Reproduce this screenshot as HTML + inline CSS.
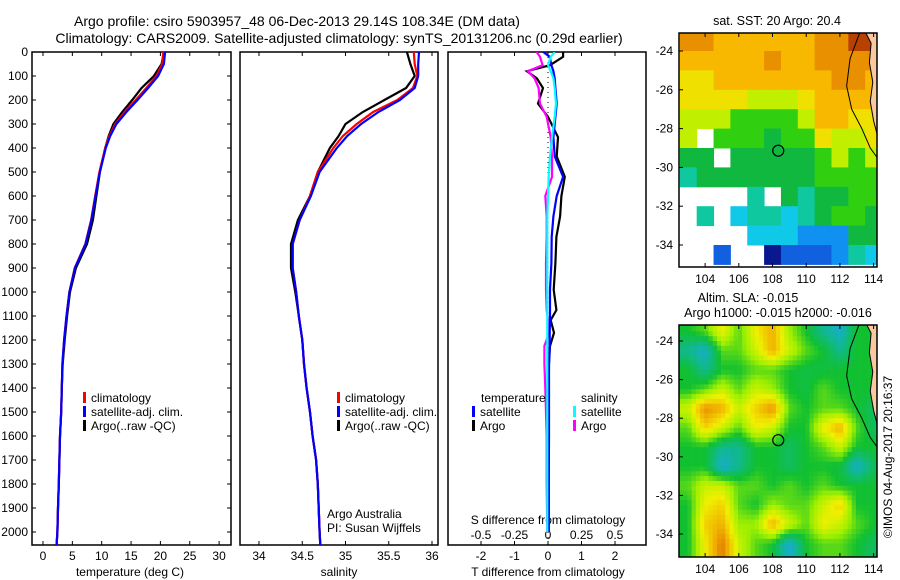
<!DOCTYPE html>
<html><head><meta charset="utf-8"><title>Argo profile</title>
<style>
html,body{margin:0;padding:0;background:#fff;}
svg{display:block;font-family:"Liberation Sans",sans-serif;font-size:12px;}
</style></head>
<body>
<svg id="chart" width="900" height="580" viewBox="0 0 900 580" xmlns="http://www.w3.org/2000/svg">
<defs>
<clipPath id="c1"><rect x="32" y="52" width="199" height="493"/></clipPath>
<clipPath id="c2"><rect x="240" y="52" width="198" height="493"/></clipPath>
<clipPath id="c3"><rect x="448" y="52" width="198" height="493"/></clipPath>
<clipPath id="cm1"><rect x="679" y="33" width="198" height="234"/></clipPath>
<clipPath id="cm2"><rect x="679" y="325" width="198" height="232"/></clipPath>
</defs>
<text x="297" y="26" text-anchor="middle" style="font-size:14px">Argo profile: csiro 5903957_48 06-Dec-2013 29.14S 108.34E (DM data)</text>
<text x="339" y="43" text-anchor="middle" style="font-size:14px">Climatology: CARS2009. Satellite-adjusted climatology: synTS_20131206.nc (0.29d earlier)</text>
<g id="g"></g>
</svg>
<script>
// ---------- data ----------
const depths = [0,50,100,150,200,250,300,350,400,500,600,700,800,900,1000,1100,1200,1300,1400,1500,1600,1700,1800,1900,2000,2060];
const tempClim = [20.5,20.3,19.3,17.6,15.8,13.9,12.3,11.3,10.6,9.6,8.9,8.2,7.2,5.4,4.5,4.0,3.6,3.3,3.2,3.1,2.9,2.8,2.7,2.55,2.45,2.3];
const tempSat  = [20.8,20.6,19.6,17.9,16.1,14.2,12.5,11.45,10.7,9.7,8.95,8.25,7.25,5.45,4.5,4.0,3.6,3.3,3.2,3.1,2.9,2.8,2.7,2.55,2.45,2.3];
const tempArgo = [20.6,20.2,18.9,16.8,15.2,13.5,12.0,11.2,10.6,9.7,9.1,8.5,7.5,5.6,4.6,4.1,3.7,3.35,3.2,3.1,2.9,2.8,2.7,2.55,2.45,2.3];
const salClim = [35.79,35.8,35.83,35.78,35.6,35.32,35.13,34.97,34.86,34.68,34.59,34.47,34.39,34.39,34.43,34.46,34.5,34.52,34.55,34.59,34.62,34.66,34.68,34.69,34.7,34.71];
const salSat  = [35.85,35.84,35.84,35.8,35.63,35.38,35.18,35.02,34.9,34.7,34.6,34.47,34.39,34.39,34.43,34.46,34.5,34.52,34.55,34.59,34.62,34.66,34.68,34.69,34.7,34.71];
const salArgo = [35.71,35.75,35.8,35.7,35.45,35.2,35.0,34.92,34.82,34.68,34.59,34.45,34.37,34.37,34.42,34.46,34.5,34.52,34.55,34.59,34.62,34.66,34.68,34.69,34.7,34.71];

const diffDepths = [0,20,55,80,110,150,215,270,355,435,520,600,685,770,880,990,1075,1117,1170,1225,1300,1400,1600,1800,2000];
const tDiffSat  = [-0.14,0.05,0.1,0.16,0.2,0.22,0.26,0.22,0.16,0.2,0.45,0.26,0.16,0.11,0.1,0.06,0.06,0.06,0.05,0.05,0.03,0.03,0.03,0.02,0.02];
const tDiffArgo = [0.45,0.45,0.06,-0.63,-0.33,-0.15,-0.3,0.0,0.3,0.26,0.5,0.4,0.36,0.25,0.22,0.17,0.25,0.08,0.18,0.06,0.03,0.02,0.02,0.02,0.02];
const sDiffSat  = [0.05,0.02,0.0,0.02,0.04,0.05,0.06,0.05,0.03,0.015,0.005,0.0,-0.005,-0.005,-0.005,-0.005,-0.005,-0.005,-0.005,-0.005,-0.005,-0.005,-0.005,-0.005,-0.005];
const sDiffArgo = [-0.085,-0.06,-0.04,-0.15,-0.1,-0.07,-0.06,-0.01,0.02,0.03,0.03,-0.02,-0.01,-0.01,-0.015,-0.015,-0.01,0.0,0.01,-0.027,-0.027,-0.02,-0.01,-0.01,-0.005];

const depthTicks = [0,100,200,300,400,500,600,700,800,900,1000,1100,1200,1300,1400,1500,1600,1700,1800,1900,2000];
const tempTicks = [0,5,10,15,20,25,30];
const salTicks = [34,34.5,35,35.5,36];
const salTickLabels = ["34","34.5","35","35.5","36"];
const tDiffTicks = [-2,-1,0,1,2];
const sDiffTicks = [-0.5,-0.25,0,0.25,0.5];
const lonTicks = [104,106,108,110,112,114];
const latTicks = [-24,-26,-28,-30,-32,-34];

// SST grid (1 deg cells, rows from -23 to -35, cols from 102.5 to 114.5); -1 = no data
const sstGrid = [
[10,10,9,9,9,9,9,9,10,10,11,11],
[9,9,9,9,9,10,9,9,10,10,10,10],
[8,8,9,9,9,9,9,9,9,10,10,9],
[8,8,8,8,7,7,7,8,9,9,9,9],
[7,7,7,6,6,6,6,7,9,9,8,8],
[7,-1,6,6,6,5,6,6,8,7,7,8],
[5,5,-1,5,5,5,5,5,6,7,6,7],
[4,5,5,5,5,5,5,5,6,6,6,6],
[-1,-1,-1,-1,4,-1,5,4,5,5,6,6],
[-1,4,-1,3,4,4,3,4,5,6,6,5],
[-1,-1,-1,-1,3,3,3,2,2,2,5,5],
[-1,-1,1,-1,-1,0,1,1,1,2,4,3]];
const sstColors = ["#0a1890","#1060e0","#1090f0","#10c8e8","#10c8a0","#10b840","#30d010","#c0f000","#f0e000","#f8b800","#e89000","#b84000"];

// SLA grid (cell centres lon 103..114, lat -23.5..-34.5)
const slaGrid = [
[2,2.5,4,2.5,4,5,3,2,1,0.3,2,2],
[1,0.3,2.5,2.5,3.5,5,3.5,2.5,2,1,2,2],
[2,1,2,2,2.5,2.5,2,1.8,1.8,2,2,2],
[2,2.5,3.5,2.5,3.5,3,2,1.8,2.5,2,2,2],
[3.5,5.5,5,3.5,4.5,5.5,2.5,2,2.5,2.5,2,1.5],
[2.5,4.5,3.5,2.5,4,3.5,2,2,4,5,2.5,1.5],
[2,2,1,1,2,2,1.5,2,2.5,3.5,2,2],
[2,2,0.2,1,2,2,1.5,2,2,1.8,0.3,1.5],
[2.5,3.5,3.5,2.5,2.5,2,2.5,2,2.5,2,2,2],
[2,4,4.5,2.5,2,3,2.5,2.5,3.5,4.5,2,2],
[2,4.5,5,3,3,5,3.5,2.5,4,3.5,2.5,2],
[2,4,5.8,3.5,2.5,2,0.2,2,2.5,2.5,2,1.5]];
const slaStops = ["#19a8e0","#10b890","#10c030","#a0f000","#f0f000","#f0b000","#e07000"];

// ---------- helpers ----------
const NS="http://www.w3.org/2000/svg";
const G=document.getElementById('g');
function mk(tag,attrs,parent){const e=document.createElementNS(NS,tag);for(const k in attrs)e.setAttribute(k,attrs[k]);(parent||G).appendChild(e);return e;}
function txt(s,x,y,anchor,parent){const t=mk('text',{x:x,y:y,'text-anchor':anchor||'start'},parent);t.textContent=s;return t;}
const yD=d=>52+d*0.24;
const xT=t=>43+t*5.87;
const xS=s=>259+(s-34)*86.5;
const xTD=v=>548+v*33.5;
const xSD=s=>548+s*4*33.5;
const lonX=lon=>679+(lon-102.45)*16.85;
const latY1=lat=>51+(-24-lat)*19.4;
const latY2=lat=>341+(-24-lat)*19.3;

function line(xs,ds,fx,color,clip,name,w){
  const pts=xs.map((v,i)=>fx(v).toFixed(1)+','+yD(ds[i]).toFixed(1)).join(' ');
  const p=mk('polyline',{points:pts,fill:'none',stroke:color,'stroke-width':w||2.2,'clip-path':'url(#'+clip+')'});
  
  
}
function frame(x0,x1,name){
  const r=mk('rect',{x:x0,y:52,width:x1-x0,height:493,fill:'none',stroke:'#000','stroke-width':1.5});
  
  
}
function legendEntry(x,y,color,label,name){
  const g=mk('g',{});
  
  
  mk('rect',{x:x,y:y-10,width:3,height:11,fill:color},g);
  txt(label,x+8,y,'start',g);
}

// ---------- panel 1: temperature ----------
frame(32,231,'temperature-panel-frame');
depthTicks.forEach(d=>{
  const y=yD(d);
  mk('line',{x1:32,x2:36,y1:y,y2:y,stroke:'#000'});
  mk('line',{x1:227,x2:231,y1:y,y2:y,stroke:'#000'});
  const t=txt(String(d),28,y+4,'end');
  
  
});
tempTicks.forEach(v=>{
  const x=xT(v);
  mk('line',{x1:x,x2:x,y1:52,y2:56,stroke:'#000'});
  mk('line',{x1:x,x2:x,y1:541,y2:545,stroke:'#000'});
  const t=txt(String(v),x,560,'middle');
  
  
});
const xl1=txt('temperature (deg C)',130,576,'middle');


line(tempArgo,depths,xT,'#000','c1','temp-argo-line');
line(tempClim,depths,xT,'#f00','c1','temp-climatology-line');
line(tempSat,depths,xT,'#00f','c1','temp-satellite-line');
legendEntry(83,402,'#f00','climatology','legend-climatology');
legendEntry(83,416,'#00f','satellite-adj. clim.','legend-satellite-adj');
legendEntry(83,430,'#000','Argo(..raw -QC)','legend-argo');

// ---------- panel 2: salinity ----------
frame(240,438,'salinity-panel-frame');
salTicks.forEach((v,i)=>{
  const x=xS(v);
  mk('line',{x1:x,x2:x,y1:52,y2:56,stroke:'#000'});
  mk('line',{x1:x,x2:x,y1:541,y2:545,stroke:'#000'});
  const t=txt(salTickLabels[i],x,560,'middle');
  
  
});
const xl2=txt('salinity',339,576,'middle');


line(salArgo,depths,xS,'#000','c2','sal-argo-line');
line(salClim,depths,xS,'#f00','c2','sal-climatology-line');
line(salSat,depths,xS,'#00f','c2','sal-satellite-line');
legendEntry(337,402,'#f00','climatology','legend-sal-climatology');
legendEntry(337,416,'#00f','satellite-adj. clim.','legend-sal-satellite-adj');
legendEntry(337,430,'#000','Argo(..raw -QC)','legend-sal-argo');
const cr1=txt('Argo Australia',327,518,'start');


const cr2=txt('PI: Susan Wijffels',327,532,'start');



// ---------- panel 3: differences ----------
frame(448,646,'difference-panel-frame');
mk('line',{x1:548,x2:548,y1:52,y2:545,stroke:'#000','stroke-dasharray':'1,4'});
tDiffTicks.forEach(v=>{
  const x=xTD(v);
  mk('line',{x1:x,x2:x,y1:52,y2:56,stroke:'#000'});
  mk('line',{x1:x,x2:x,y1:541,y2:545,stroke:'#000'});
  const t=txt(String(v),x,560,'middle');
  
  
});
sDiffTicks.forEach(v=>{
  const t=txt(String(v),xSD(v),539,'middle');
  
  
});
const sl=txt('S difference from climatology',548,524,'middle');


const tl=txt('T difference from climatology',548,576,'middle');


line(tDiffArgo,diffDepths,xTD,'#000','c3','t-diff-argo-line');
line(sDiffArgo,diffDepths,xSD,'#f0f','c3','s-diff-argo-line');
line(tDiffSat,diffDepths,xTD,'#00f','c3','t-diff-satellite-line');
line(sDiffSat,diffDepths,xSD,'#0ff','c3','s-diff-satellite-line');
const lt=txt('temperature',481,402,'start');


const ls=txt('salinity',581,402,'start');


legendEntry(472,416,'#00f','satellite','legend-t-satellite');
legendEntry(472,430,'#000','Argo','legend-t-argo');
legendEntry(573,416,'#0ff','satellite','legend-s-satellite');
legendEntry(573,430,'#f0f','Argo','legend-s-argo');

// ---------- maps ----------
const landPoly=[[113.5,-23.0],[114.3,-23.0],[114.3,-28.6],[114.0,-27.6],[113.8,-26.6],[113.95,-25.6],[113.75,-24.6],[113.85,-23.6]];
const contour=[[113.2,-23.0],[112.6,-24.4],[112.4,-25.8],[112.7,-27.0],[113.3,-28.0],[113.8,-29.0],[114.3,-29.6]];
function mapDecor(latY,top,bottom,name,clip){
  const land=mk('polygon',{points:landPoly.map(p=>lonX(p[0])+','+latY(p[1])).join(' '),fill:'#f8c8a0',stroke:'#000','stroke-width':1,'clip-path':'url(#'+clip+')'});
  
  
  const c=mk('polyline',{points:contour.map(p=>lonX(p[0])+','+latY(p[1])).join(' '),fill:'none',stroke:'#000','stroke-width':1,'clip-path':'url(#'+clip+')'});
  
  
  const circ=mk('circle',{cx:lonX(108.34),cy:latY(-29.14),r:5.5,fill:'none',stroke:'#000','stroke-width':1.2});
  
  
  const f=mk('rect',{x:679,y:top,width:198,height:bottom-top,fill:'none',stroke:'#000','stroke-width':1.5});
  
  
  lonTicks.forEach(v=>{
    const x=lonX(v);
    mk('line',{x1:x,x2:x,y1:top,y2:top+4,stroke:'#000'});
    mk('line',{x1:x,x2:x,y1:bottom-4,y2:bottom,stroke:'#000'});
    const t=txt(String(v),x,bottom+16,'middle');
    
    
  });
  latTicks.forEach(v=>{
    const y=latY(v);
    mk('line',{x1:679,x2:683,y1:y,y2:y,stroke:'#000'});
    const t=txt(String(v),673,y+4,'end');
    
    
  });
}
// SST map
const sstG=mk('g',{'clip-path':'url(#cm1)'});


sstGrid.forEach((row,j)=>row.forEach((v,i)=>{
  if(v<0)return;
  const x0=lonX(102.5+i),x1=lonX(103.5+i),y0=latY1(-23-j),y1=latY1(-24-j);
  const r=mk('rect',{x:x0,y:y0,width:x1-x0+0.5,height:y1-y0+0.5,fill:sstColors[v]},sstG);
  
  
}));
mapDecor(latY1,33,267,'sst-map','cm1');
const mt1=txt('sat. SST: 20 Argo: 20.4',777,25,'middle');


mt1.setAttribute('style','font-size:12.5px');

// SLA map
function hex(c){return [1,3,5].map(i=>parseInt(c.substr(i,2),16));}
function slaColor(v){
  v=Math.max(0,Math.min(6,v));const i=Math.min(5,Math.floor(v)),f=v-i;
  const a=hex(slaStops[i]),b=hex(slaStops[i+1]);
  return 'rgb('+a.map((c,k)=>Math.round(c+(b[k]-c)*f)).join(',')+')';
}
function slaAt(lon,lat){
  let fi=lon-103,fj=-23.5-lat;
  fi=Math.max(0,Math.min(11,fi));fj=Math.max(0,Math.min(11,fj));
  const i0=Math.min(10,Math.floor(fi)),j0=Math.min(10,Math.floor(fj)),di=fi-i0,dj=fj-j0;
  return slaGrid[j0][i0]*(1-di)*(1-dj)+slaGrid[j0][i0+1]*di*(1-dj)+slaGrid[j0+1][i0]*(1-di)*dj+slaGrid[j0+1][i0+1]*di*dj;
}
const slaG=mk('g',{'clip-path':'url(#cm2)'});


for(let lat=-23;lat>-35.3;lat-=0.25){
  for(let lon=102.45;lon<114.3;lon+=0.25){
    const v=slaAt(lon+0.125,lat-0.125);
    const x0=lonX(lon),y0=latY2(lat);
    const r=mk('rect',{x:x0,y:y0,width:4.5,height:5.2,fill:slaColor(v)},slaG);
    
    
  }
}
mapDecor(latY2,325,557,'sla-map','cm2');
const mt2=txt('Altim. SLA: -0.015',748,302,'middle');


mt2.setAttribute('style','font-size:12.5px');
const mt3=txt('Argo h1000: -0.015 h2000: -0.016',778,317,'middle');


mt3.setAttribute('style','font-size:12.5px');

const cp=txt('©IMOS 04-Aug-2017 20:16:37',0,0,'middle');
cp.setAttribute('transform','translate(892,457) rotate(-90)');


</script>
</body></html>
